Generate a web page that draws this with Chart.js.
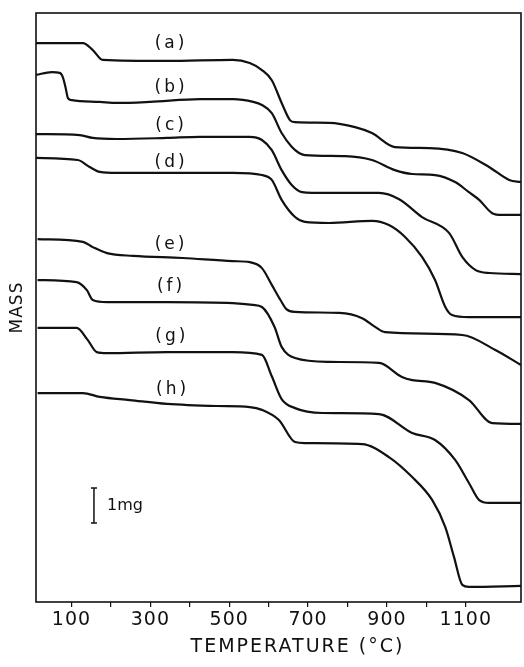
<!DOCTYPE html>
<html>
<head>
    <title>TGA curves</title>
    <script src="https://cdn.jsdelivr.net/npm/chart.js"></script>
    <style>
        body { margin: 0; background: #fff; }
        #wrap { width: 524px; height: 667px; }
    </style>
</head>
<body>
    <div id="wrap"><canvas id="tga"></canvas></div>

    <script>
        // temperature (°C) and mass (mg, arbitrary offset)
        const tempA = [10, 129, 154, 179, 342, 509, 552, 583, 608, 633, 654, 667, 753, 819, 862, 920, 1007, 1091, 1159, 1210, 1240];
        const massA = [15.97, 15.97, 15.77, 15.49, 15.46, 15.49, 15.4, 15.2, 14.91, 14.26, 13.77, 13.71, 13.69, 13.57, 13.4, 13.0, 12.97, 12.83, 12.43, 12.06, 12.0];

        const tempB = [10, 50, 70, 78, 85, 91, 101, 172, 215, 299, 426, 510, 561, 583, 608, 633, 659, 677, 692, 794, 862, 920, 964, 1022, 1073, 1108, 1134, 1167, 1192, 1240];
        const massB = [15.06, 15.14, 15.12, 15.0, 14.7, 14.4, 14.34, 14.29, 14.26, 14.29, 14.37, 14.37, 14.29, 14.2, 13.97, 13.4, 13.0, 12.83, 12.77, 12.74, 12.63, 12.34, 12.23, 12.2, 12.0, 11.71, 11.49, 11.11, 11.06, 11.06];

        const tempC = [10, 121, 154, 215, 342, 426, 552, 583, 608, 633, 659, 685, 710, 819, 880, 931, 989, 1058, 1091, 1124, 1160, 1240];
        const massC = [13.37, 13.34, 13.26, 13.23, 13.26, 13.29, 13.29, 13.2, 12.91, 12.34, 11.91, 11.71, 11.69, 11.69, 11.69, 11.51, 11.0, 10.54, 9.86, 9.49, 9.4, 9.37];

        const tempD = [10, 116, 146, 172, 215, 342, 509, 583, 608, 633, 667, 692, 753, 862, 905, 946, 989, 1022, 1048, 1065, 1108, 1240];
        const massD = [12.69, 12.63, 12.43, 12.29, 12.26, 12.26, 12.26, 12.2, 12.06, 11.49, 11.0, 10.86, 10.83, 10.89, 10.77, 10.43, 9.86, 9.2, 8.43, 8.2, 8.14, 8.14];

        const tempE = [14, 129, 154, 190, 256, 382, 509, 552, 583, 608, 630, 645, 667, 779, 837, 870, 895, 1091, 1175, 1240];
        const massE = [10.37, 10.29, 10.14, 9.97, 9.89, 9.83, 9.74, 9.71, 9.54, 9.06, 8.63, 8.37, 8.29, 8.26, 8.11, 7.86, 7.71, 7.63, 7.2, 6.77];

        const tempF = [14, 113, 139, 154, 190, 342, 509, 560, 583, 615, 633, 667, 753, 880, 938, 964, 1022, 1108, 1167, 1240];
        const massF = [9.2, 9.14, 8.91, 8.63, 8.57, 8.57, 8.54, 8.49, 8.43, 7.86, 7.29, 6.97, 6.86, 6.83, 6.43, 6.34, 6.26, 5.77, 5.11, 5.09];

        const tempG = [14, 113, 141, 164, 190, 342, 509, 583, 608, 633, 667, 736, 880, 964, 1022, 1073, 1108, 1134, 1159, 1240];
        const massG = [7.83, 7.83, 7.49, 7.14, 7.11, 7.14, 7.14, 7.06, 6.45, 5.8, 5.54, 5.4, 5.37, 4.83, 4.63, 4.06, 3.4, 2.91, 2.83, 2.83];

        const tempH = [14, 129, 172, 248, 342, 469, 552, 583, 626, 667, 692, 837, 905, 964, 1015, 1048, 1070, 1091, 1108, 1240];
        const massH = [5.97, 5.97, 5.86, 5.77, 5.66, 5.6, 5.57, 5.49, 5.2, 4.57, 4.54, 4.51, 4.14, 3.57, 2.91, 2.14, 1.29, 0.49, 0.43, 0.46];

        // curve labels
        const labelNames = ['(a)', '(b)', '(c)', '(d)', '(e)', '(f)', '(g)', '(h)'];
        const labelTemps = [350, 350, 350, 350, 350, 350, 352, 354];
        const labelMasses = [15.97, 14.69, 13.6, 12.57, 10.2, 9.0, 7.57, 6.06];

        // 1 mg scale bar
        const barTemp = 157;
        const barMass = [2.26, 3.26];

        const xTitle = 'TEMPERATURE (°C)';

        const series = [
            [tempA, massA], [tempB, massB], [tempC, massC], [tempD, massD],
            [tempE, massE], [tempF, massF], [tempG, massG], [tempH, massH]
        ];

        const datasets = series.map(([t, m], i) => ({
            label: labelNames[i],
            data: t.map((x, k) => ({ x: x, y: m[k] })),
            borderColor: '#111',
            borderWidth: 2.2,
            pointRadius: 0,
            fill: false,
            cubicInterpolationMode: 'monotone'
        }));

        // spaced lettering like the original print
        const spacing = {
            id: 'spacing',
            beforeDraw(chart) {
                if ('letterSpacing' in chart.ctx) chart.ctx.letterSpacing = '1px';
            },
            afterDraw(chart) {
                if ('letterSpacing' in chart.ctx) chart.ctx.letterSpacing = '0px';
            }
        };

        // frame, curve labels, scale bar and x title
        const extras = {
            id: 'extras',
            afterDatasetsDraw(chart) {
                const ctx = chart.ctx;
                const xs = chart.scales.x;
                const ys = chart.scales.y;
                const area = chart.chartArea;
                ctx.save();
                ctx.strokeStyle = '#111';
                ctx.lineWidth = 1.6;
                ctx.strokeRect(area.left, area.top, area.right - area.left, area.bottom - area.top);

                ctx.fillStyle = '#111';
                ctx.font = '17px "DejaVu Sans"';
                ctx.textAlign = 'center';
                ctx.textBaseline = 'middle';
                if ('letterSpacing' in ctx) ctx.letterSpacing = '3px';
                labelNames.forEach((txt, i) => {
                    ctx.fillText(txt, xs.getPixelForValue(labelTemps[i]) + 1, ys.getPixelForValue(labelMasses[i]));
                });

                // axis title sits a little right of the axis centre in the original
                if ('letterSpacing' in ctx) ctx.letterSpacing = '2px';
                ctx.font = '19px "DejaVu Sans"';
                ctx.fillText(xTitle, (area.left + area.right) / 2 + 19, area.bottom + 45);
                if ('letterSpacing' in ctx) ctx.letterSpacing = '0px';

                const bx = xs.getPixelForValue(barTemp);
                const b0 = ys.getPixelForValue(barMass[0]);
                const b1 = ys.getPixelForValue(barMass[1]);
                ctx.lineWidth = 1.5;
                ctx.beginPath();
                ctx.moveTo(bx, b0); ctx.lineTo(bx, b1);
                ctx.moveTo(bx - 3, b0); ctx.lineTo(bx + 3, b0);
                ctx.moveTo(bx - 3, b1); ctx.lineTo(bx + 3, b1);
                ctx.stroke();
                ctx.textAlign = 'left';
                ctx.font = '16px "DejaVu Sans"';
                ctx.fillText('1mg', xs.getPixelForValue(190), ys.getPixelForValue((barMass[0] + barMass[1]) / 2));
                ctx.restore();
            }
        };

        new Chart(document.getElementById('tga'), {
            type: 'line',
            data: { datasets: datasets },
            options: {
                responsive: true,
                maintainAspectRatio: false,
                animation: false,
                layout: { padding: { top: 13, right: 3, left: 0, bottom: 0 } },
                plugins: { legend: { display: false }, tooltip: { enabled: false } },
                scales: {
                    x: {
                        type: 'linear',
                        min: 10,
                        max: 1240,
                        afterFit: s => { s.height = 65; },
                        afterBuildTicks: s => {
                            s.ticks = s.ticks.filter(t => t.value >= 100 && t.value % 100 === 0);
                        },
                        border: { display: false },
                        grid: {
                            drawOnChartArea: false,
                            drawTicks: true,
                            tickLength: 5,
                            color: '#111',
                            lineWidth: 1.2
                        },
                        ticks: {
                            stepSize: 100,
                            autoSkip: false,
                            maxRotation: 0,
                            padding: 2,
                            color: '#111',
                            font: { family: 'DejaVu Sans', size: 19 },
                            callback: v => (v % 200 === 100 ? v : '')
                        },
                        title: { display: false }
                    },
                    y: {
                        min: 0,
                        max: 16.83,
                        afterFit: s => { s.width = 36; },
                        border: { display: false },
                        grid: { display: false },
                        ticks: { display: false },
                        title: {
                            display: true,
                            text: 'MASS',
                            color: '#111',
                            font: { family: 'DejaVu Sans', size: 17 },
                            padding: { top: 7, bottom: 0 }
                        }
                    }
                }
            },
            plugins: [spacing, extras]
        });
    </script>
</body>
</html>
